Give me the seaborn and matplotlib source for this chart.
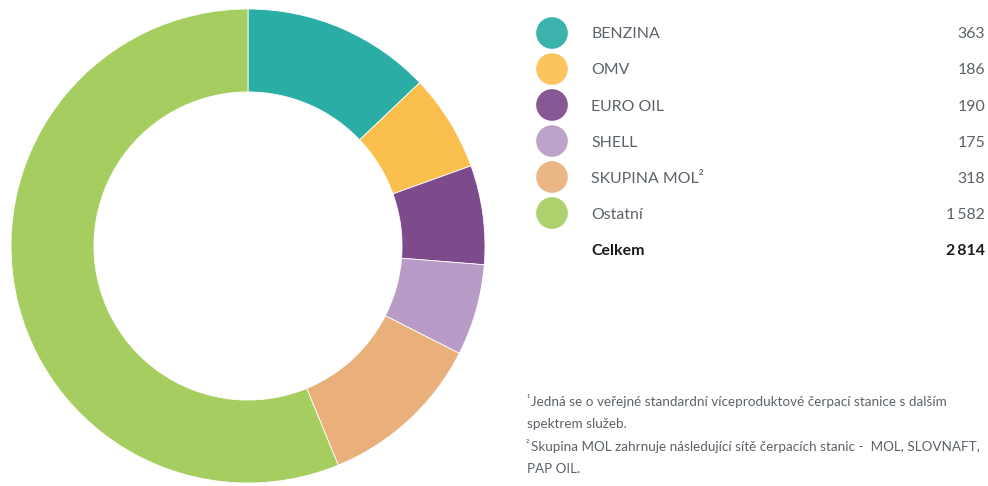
import numpy as np
import matplotlib
matplotlib.use("Agg")
import matplotlib.pyplot as plt
import seaborn as sns

# data
labels = ["BENZINA", "OMV", "EURO OIL", "SHELL", "SKUPINA MOL\u00b2", "Ostatní"]
values = [363, 186, 190, 175, 318, 1582]
value_text = ["363", "186", "190", "175", "318", "1\u2009582"]
total_label = "Celkem"
total_text = "2\u2009814"
colors = ["#2aada5", "#fbbf4e", "#7d4a8b", "#b89bc6", "#e9b07c", "#a6cd5f"]
notes = [
    ("\u00b9", "Jedná se o veřejné standardní víceproduktové čerpací stanice s dalším"),
    ("", "spektrem služeb."),
    ("\u00b2", "Skupina MOL zahrnuje následující sítě čerpacích stanic -  MOL, SLOVNAFT,"),
    ("", "PAP OIL."),
]

sns.set_theme(style="white")
plt.rcParams["font.family"] = ["Lato", "DejaVu Sans"]

W, H = 988, 486
fig = plt.figure(figsize=(W / 100, H / 100), dpi=100)

# donut
cx, cy, r = 248, 246, 237
ax = fig.add_axes([(cx - r) / W, 1 - (cy + r) / H, 2 * r / W, 2 * r / H])
ax.pie(values, colors=colors, startangle=90, counterclock=False, radius=1.0,
       wedgeprops=dict(width=0.35, edgecolor="white", linewidth=0.6))
ax.set_xlim(-1, 1)
ax.set_ylim(-1, 1)
ax.set_aspect("equal")
ax.axis("off")

# legend overlay in pixel coords
ov = fig.add_axes([0, 0, 1, 1])
ov.set_xlim(0, W)
ov.set_ylim(H, 0)
ov.axis("off")

grey = "#5b6269"
row_y = [33, 69, 105, 141, 177, 213]
ov.scatter([552] * len(row_y), row_y, s=520, c=colors, edgecolors="none", alpha=0.92)
for y, lab, vt in zip(row_y, labels, value_text):
    ov.text(591, y + 1.5, lab, fontsize=11.4, color=grey, va="center", ha="left")
    ov.text(985, y + 1.5, vt, fontsize=11.4, color=grey, va="center", ha="right")
ov.text(591, 250.5, total_label, fontsize=11.4, color="#1a1a1a", va="center", ha="left", fontweight="bold")
ov.text(985, 250.5, total_text, fontsize=11.4, color="#1a1a1a", va="center", ha="right", fontweight="bold")

# footnotes
note_y = [401, 423, 446, 468]
for y, (sup, txt) in zip(note_y, notes):
    if sup:
        ov.text(526, y - 2, sup, fontsize=7, color=grey, va="center", ha="left")
    ov.text(531 if sup else 527, y + 1, txt, fontsize=9.7, color=grey, va="center", ha="left")

fig.savefig("out.png", dpi=100)
